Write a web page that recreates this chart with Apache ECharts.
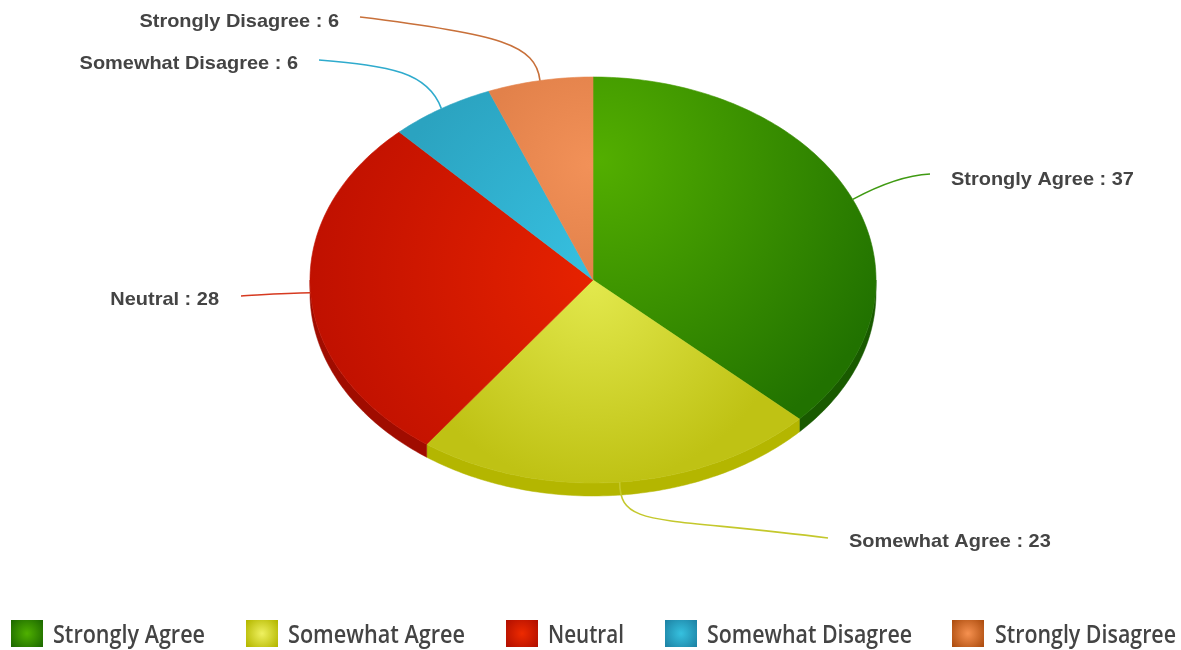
<!DOCTYPE html>
<html>
<head>
<meta charset="utf-8">
<style>html,body{margin:0;padding:0;background:#fff}#c{width:1181px;height:650px}</style>
<script src="https://cdn.jsdelivr.net/npm/echarts@6/dist/echarts.min.js"></script>
</head>
<body>
<div id="c"></div>
<script>
const categories = ['Strongly Agree', 'Somewhat Agree', 'Neutral', 'Somewhat Disagree', 'Strongly Disagree'];
const values = [37, 23, 28, 6, 6];

// Styling and layout, separate from the data
const CX = 593, CY = 280, RX = 283, RY = 203, DEPTH = 13;
const topGradients = [
  {x: 600, y: 160, r: 315, stops: ['#53ae00', '#217200']},
  {x: 593, y: 285, r: 200, stops: ['#e2e84c', '#bfc214']},
  {x: 590, y: 275, r: 285, stops: ['#e62200', '#bf1000']},
  {x: 590, y: 260, r: 215, stops: ['#36bfdf', '#2ba3c0']},
  {x: 590, y: 165, r: 115, stops: ['#f29158', '#e2814a']}
];
const wallColors = ['#195a00', '#b4b600', '#a00c00', '#1f86a8', '#b04f10'];
const lineColors = ['#3f9a12', '#c4c82c', '#d63a20', '#2fabcd', '#c8703a'];
const swatchGradients = [
  ['#4fb000', '#1e6b00'], ['#eff160', '#b5b800'], ['#ee2a00', '#b31000'],
  ['#36c1df', '#1e84a6'], ['#f69150', '#ae4e10']
];
// Leader-line shape after the anchor on the rim: two control points and an end point
const leaders = [
  [[885, 182], [910, 175], [930, 174]],
  [[620, 528], [655, 516], [828, 538]],
  [[285, 293], [260, 295], [241, 296]],
  [[428, 72], [390, 66], [319, 60]],
  [[536, 45], [500, 34], [360, 17]]
];
const labelPos = [
  {x: 951, y: 179.5, align: 'left'},
  {x: 849, y: 542, align: 'left'},
  {x: 219, y: 300, align: 'right'},
  {x: 298, y: 64, align: 'right'},
  {x: 339, y: 22, align: 'right'}
];
const legendPos = [
  {sx: 11, tx: 53, tw: 152},
  {sx: 246, tx: 288, tw: 177},
  {sx: 506, tx: 548, tw: 76},
  {sx: 665, tx: 707, tw: 205},
  {sx: 952, tx: 995, tw: 181}
];
const LEGEND_FONT = '600 26px "Open Sans"';
const LABEL_FONT = 'bold 19px "Liberation Sans"';

const measure = document.createElement('canvas').getContext('2d');
function textWidth(t, font) { measure.font = font; return measure.measureText(t).width; }

const total = values.reduce((a, b) => a + b, 0);
function rim(a) { return [CX + RX * Math.sin(a), CY - RY * Math.cos(a)]; }
function arc(a0, a1, dy) {
  const pts = [], n = Math.max(2, Math.ceil((a1 - a0) * 60));
  for (let i = 0; i <= n; i++) {
    const p = rim(a0 + (a1 - a0) * i / n);
    pts.push([p[0], p[1] + dy]);
  }
  return pts;
}

function renderItem(params, api) {
  const i = params.dataIndex, value = api.value(1);
  let before = 0;
  for (let k = 0; k < i; k++) before += values[k];
  const a0 = before / total * 2 * Math.PI, a1 = (before + value) / total * 2 * Math.PI;
  const mid = (a0 + a1) / 2;
  const children = [];

  // side wall (only the front half of the rim shows)
  const w0 = Math.max(a0, Math.PI / 2), w1 = Math.min(a1, 3 * Math.PI / 2);
  if (w1 > w0) {
    children.push({
      type: 'polygon',
      shape: {points: arc(w0, w1, 0).concat(arc(w0, w1, DEPTH).reverse())},
      style: {fill: wallColors[i], stroke: wallColors[i], lineWidth: 0.5}
    });
  }
  // top face
  const g = topGradients[i];
  const fill = {type: 'radial', x: g.x, y: g.y, r: g.r, global: true,
    colorStops: [{offset: 0, color: g.stops[0]}, {offset: 1, color: g.stops[1]}]};
  children.push({
    type: 'polygon',
    shape: {points: [[CX, CY]].concat(arc(a0, a1, 0))},
    style: {fill: fill, stroke: fill, lineWidth: 0.6}
  });
  // leader line
  const anchor = rim(mid), L = leaders[i];
  children.push({
    type: 'bezierCurve',
    shape: {x1: anchor[0], y1: anchor[1], cpx1: L[0][0], cpy1: L[0][1], cpx2: L[1][0], cpy2: L[1][1], x2: L[2][0], y2: L[2][1]},
    style: {fill: 'none', stroke: lineColors[i], lineWidth: 1.6}
  });
  // data label
  const lp = labelPos[i];
  children.push({
    type: 'text', x: lp.x, y: lp.y, scaleX: 1.05,
    style: {text: categories[i] + ' : ' + value, font: LABEL_FONT, fill: '#444444', align: lp.align, verticalAlign: 'middle'}
  });
  // legend entry
  const lg = legendPos[i], s = swatchGradients[i];
  children.push({
    type: 'rect',
    shape: {x: lg.sx, y: 620, width: 32, height: 27},
    style: {fill: {type: 'radial', x: 0.5, y: 0.5, r: 0.72,
      colorStops: [{offset: 0, color: s[0]}, {offset: 1, color: s[1]}]}}
  });
  children.push({
    type: 'text', x: lg.tx, y: 636,
    scaleX: lg.tw / textWidth(categories[i], LEGEND_FONT),
    style: {text: categories[i], font: LEGEND_FONT, fill: '#444444', align: 'left', verticalAlign: 'middle'}
  });
  return {type: 'group', children};
}

const chart = echarts.init(document.getElementById('c'), null, {renderer: 'canvas'});
chart.setOption({
  animation: false,
  backgroundColor: '#ffffff',
  series: [{
    type: 'custom',
    coordinateSystem: 'none',
    silent: true,
    renderItem,
    data: categories.map((c, i) => [c, values[i]])
  }]
});
</script>
</body>
</html>
